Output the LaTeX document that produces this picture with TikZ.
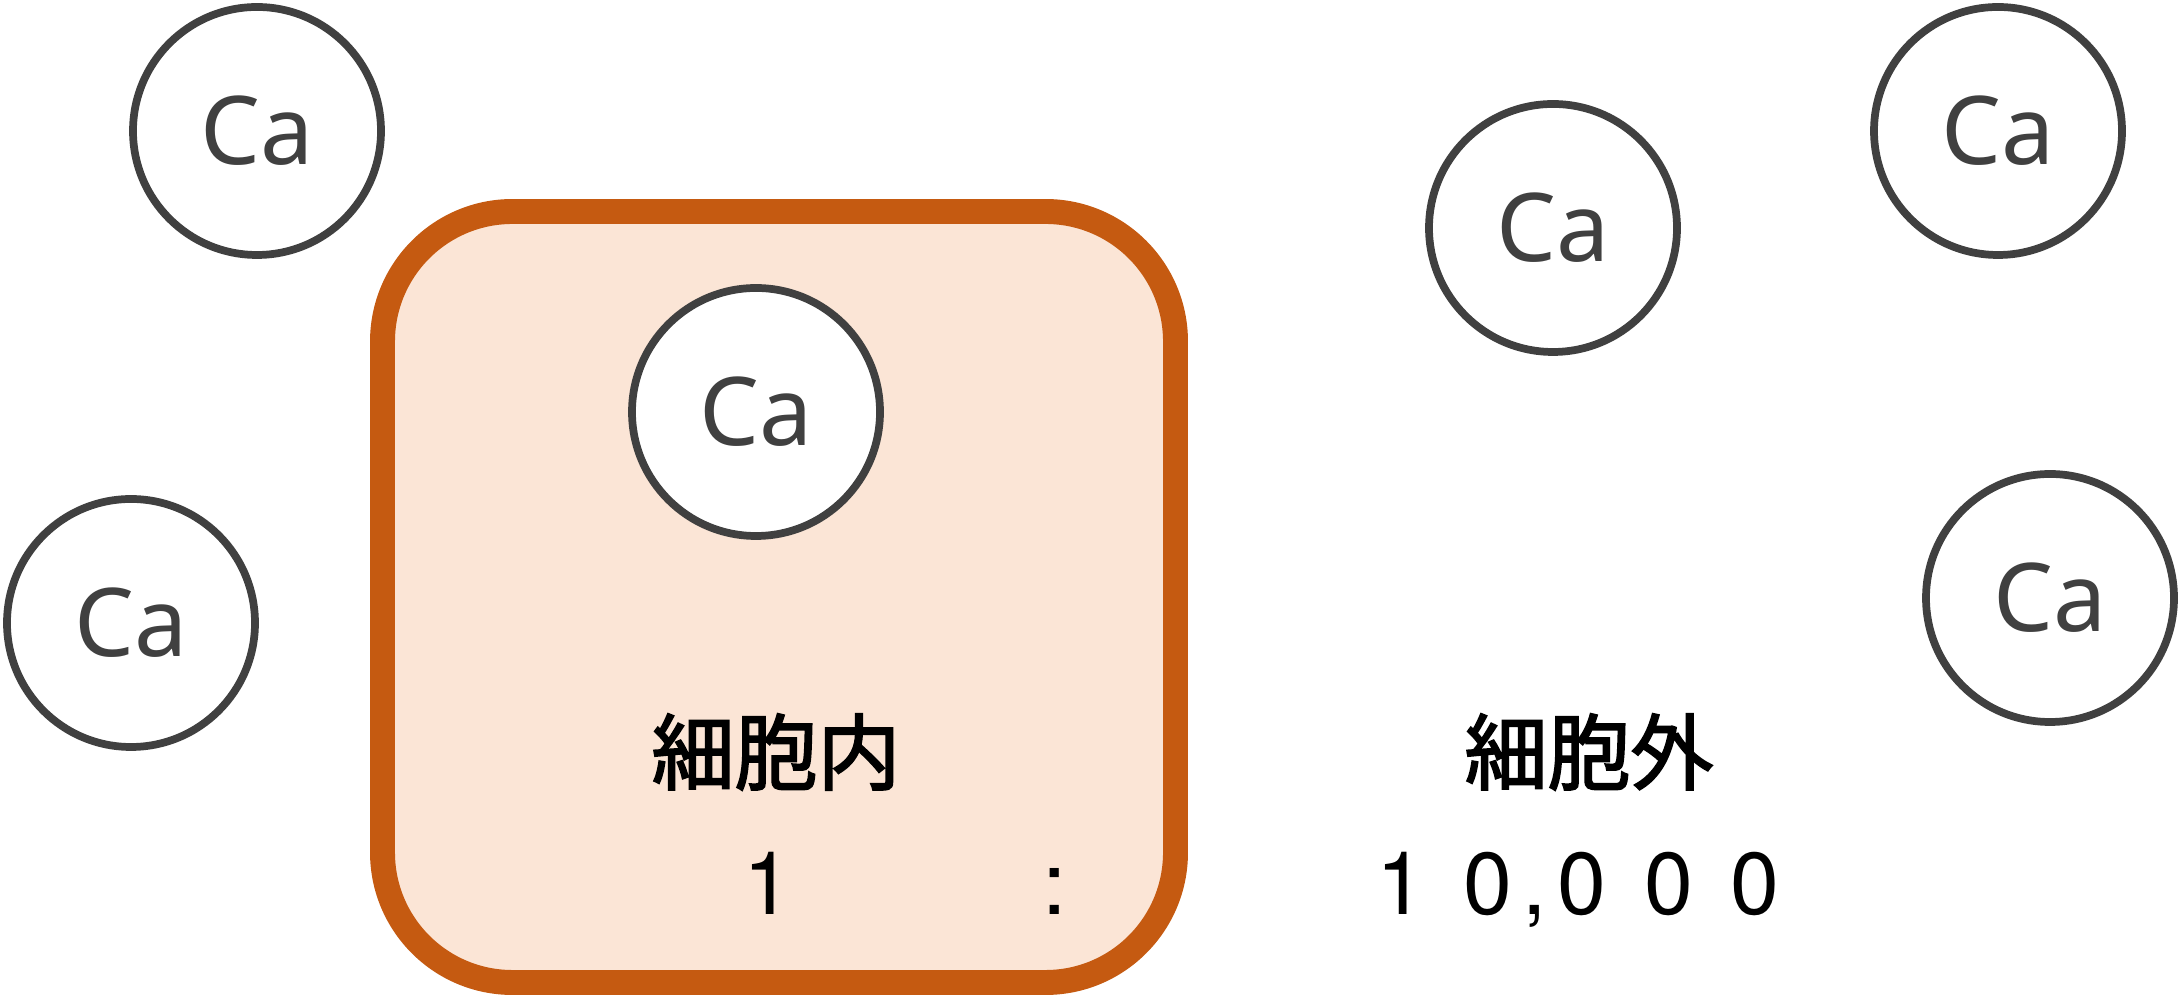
\documentclass[tikz,border=0pt]{standalone}
\usepackage{fontspec}
\setmainfont{Noto Sans CJK JP}
\newfontfamily\cellfont{Noto Sans CJK JP}[FakeBold=2.2]
\newfontfamily\ionfont{Noto Sans}
\newfontfamily\digitfont{TeX Gyre Heros}

\definecolor{cellorange}{HTML}{C55A11}
\definecolor{cellfill}{HTML}{FBE5D6}
\definecolor{iongray}{HTML}{404040}

% spacing of the ratio digits
\newcommand{\dgap}{\hspace{0.43em}}
\newcommand{\cgap}{\hspace{0.12em}}

\begin{document}
\begin{tikzpicture}[
    ion/.style={circle, draw=iongray, line width=2.2pt, fill=white,
        minimum size=2.48cm, inner sep=0pt, text=iongray,
        font=\ionfont\fontsize{27}{27}\selectfont},
    cellbox/.style={draw=cellorange, fill=cellfill, line width=7.1pt,
        rounded corners=1.3cm, minimum width=7.93cm, minimum height=7.71cm},
    celltext/.style={font=\cellfont\fontsize{23.6}{24}\selectfont},
    ratiotext/.style={anchor=base, font=\digitfont\fontsize{25}{25}\selectfont}
]
    \useasboundingbox (0,0) rectangle (21.82,9.99);

    % the cell
    \node[cellbox] (cell) at (7.79,4.02) {};

    % Define the positions of the ions
    \node[ion] (ca1) at (2.57,8.68) {Ca};
    \node[ion] (ca2) at (1.31,3.76) {Ca};
    \node[ion] (ca3) at (7.56,5.87) {Ca};
    \node[ion] (ca4) at (15.53,7.71) {Ca};
    \node[ion] (ca5) at (19.98,8.68) {Ca};
    \node[ion] (ca6) at (20.50,4.01) {Ca};

    % inside / outside
    \node[celltext] (in) at (7.76,2.47) {細胞内};
    \node[celltext] (out) at (15.89,2.47) {細胞外};

    \node[ratiotext] (inval) at (7.68,0.84) {1};
    \node[ratiotext] (colon) at (10.55,0.84) {:};
    \node[ratiotext] (outval) at (15.78,0.84) {1\dgap 0\cgap,\cgap 0\dgap 0\dgap 0};
\end{tikzpicture}
\end{document}
